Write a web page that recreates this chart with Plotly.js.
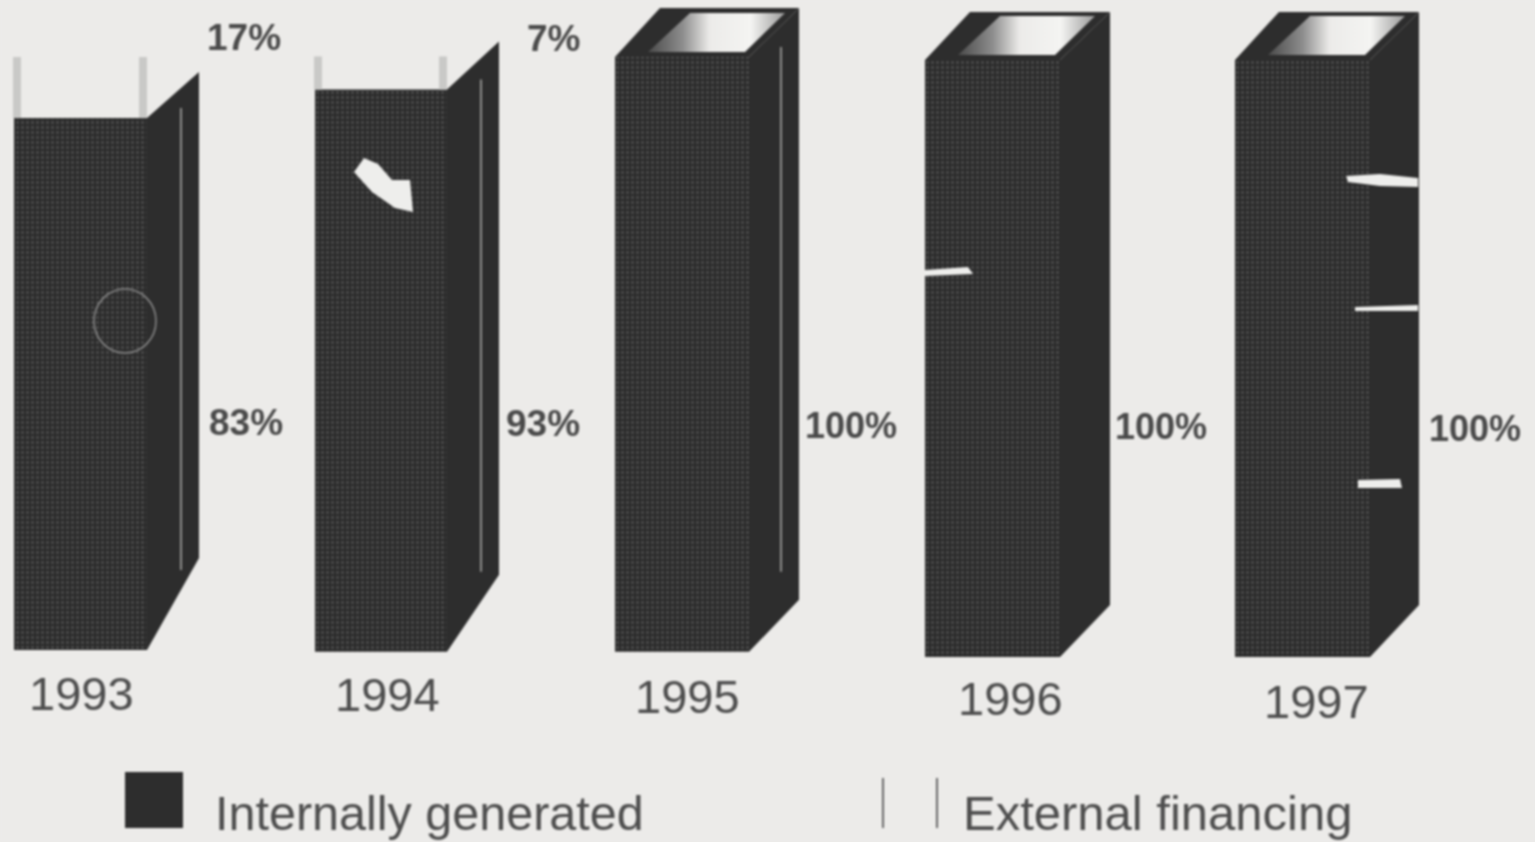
<!DOCTYPE html>
<html><head><meta charset="utf-8">
<script src="https://cdn.plot.ly/plotly-3.0.1.min.js"></script>
<style>html,body{margin:0;padding:0;background:#ecebe9;overflow:hidden}#p{width:1535px;height:842px;filter:blur(0.9px)}</style>
</head><body><div id="p"></div>
<script>
// Data
const years = ['1993','1994','1995','1996','1997'];
const internalLabels = ['83%','93%','100%','100%','100%'];
const externalLabels = ['17%','7%','','',''];
// Segment heights as drawn in the scan
const internalDrawn = [89.7,94.8,100.3,100.7,100.7];
const externalDrawn = [10.3,5.6,0,0,0];
const baseDrawn = [0,-0.3,-0.3,-1.2,-1.2];

// Layout geometry (pixels of the 1535x842 page)
const barLeft = [14,315,615,925,1235];
const barWidth = [133,132,134,135,135];
const depthX = [52,52,50,50,49];
const depthTop = [46,48,49,48,48];
const depthBottom = [92,77,52,52,52];
const yearX = [81,387,687,1010,1316];
const yearY = [693,694,696,698,701];
const intLabelX = [246,543,851,1161,1475];
const intLabelY = [422,423,425,426,428];
const extLabelX = [244,553];
const extLabelY = [37,38];
const edgeX = [181,481,781];

const PX = 5.93, ZERO = 650;
const dy = px => px / PX;               // pixels -> axis units
const yAt = p => (ZERO - p) / PX;       // page y -> axis value
const DARK = '#2d2d2d';
const BG = '#ecebe9';

const traces = [];
// External (hollow) and internal bars
traces.push({type:'bar', name:'External financing', x:barLeft.map((l,i)=>l+barWidth[i]/2), width:barWidth,
  base:internalDrawn.map((v,i)=>v+baseDrawn[i]), y:externalDrawn,
  marker:{color:'rgba(0,0,0,0)',line:{width:0}}, hoverinfo:'skip', showlegend:false});
traces.push({type:'bar', name:'Internally generated', x:barLeft.map((l,i)=>l+barWidth[i]/2), width:barWidth,
  base:baseDrawn, y:internalDrawn,
  marker:{color:DARK,line:{width:0},pattern:{shape:'.',size:5,solidity:0.1,fgcolor:'#767676',bgcolor:DARK,fillmode:'replace'}},
  hoverinfo:'skip', showlegend:false});

years.forEach((yr,i)=>{
  const L = barLeft[i], R = L + barWidth[i], dx = depthX[i];
  const b = baseDrawn[i], top = b + internalDrawn[i], tot = top + externalDrawn[i];
  // side face
  traces.push({type:'scatter',mode:'lines',fill:'toself',fillcolor:DARK,line:{width:0,color:DARK},
    x:[R,R+dx,R+dx,R,R], y:[top,top+dy(depthTop[i]),b+dy(depthBottom[i]),b,top],hoverinfo:'skip',showlegend:false});
  if (externalDrawn[i] > 0) {
    // hollow external segment: two soft vertical edges
    [L+3,R-4].forEach(x=>traces.push({type:'scatter',mode:'lines',x:[x,x],y:[top,tot],
      line:{color:'#c9c9c7',width:8},hoverinfo:'skip',showlegend:false}));
  } else {
    // top face: dark frame and a lit centre
    traces.push({type:'scatter',mode:'lines',fill:'toself',fillcolor:DARK,line:{width:0,color:DARK},
      x:[L,L+dx-5,R+dx,R,L], y:[top,top+dy(depthTop[i]),top+dy(depthTop[i]),top,top],hoverinfo:'skip',showlegend:false});
    traces.push({type:'scatter',mode:'lines',fill:'toself',line:{width:0,color:'#888'},
      fillgradient:{type:'horizontal',colorscale:[[0,'#4a4a4a'],[0.25,'#8c8c8c'],[0.45,'#ecebe9'],[0.75,'#f4f4f2'],[1,'#9a9a9a']]},
      x:[L+33,L+75,L+170,L+130,L+33], y:[top+dy(5),top+dy(44),top+dy(44),top+dy(5),top+dy(5)],hoverinfo:'skip',showlegend:false});
  }
});
// light crease on the side faces of the first three bars
edgeX.forEach((x,i)=>traces.push({type:'scatter',mode:'lines',x:[x,x],
  y:[baseDrawn[i]+internalDrawn[i]+dy(10),baseDrawn[i]+dy(80)],
  line:{color:'#8f8f8d',width:2},hoverinfo:'skip',showlegend:false}));

const ann = (x,y,text,size,bold,color)=>({x,y:yAt(y),xref:'x',yref:'y',text:bold?'<b>'+text+'</b>':text,showarrow:false,
  xanchor:'center',yanchor:'middle',font:{family:'"Liberation Sans",Arial,sans-serif',size,color}});
const annotations = [];
years.forEach((y,i)=>{
  annotations.push(ann(yearX[i],yearY[i],y,47,false,'#4e4e4e'));
  annotations.push(ann(intLabelX[i],intLabelY[i],internalLabels[i],i<2?37:36,true,'#4a4a4a'));
  if (externalLabels[i]) annotations.push(ann(extLabelX[i],extLabelY[i],externalLabels[i],37,true,'#4a4a4a'));
});
annotations.push(ann(429.5,813,'Internally generated',48.5,false,'#4e4e4e'));
annotations.push(ann(1158,813,'External financing',49,false,'#4e4e4e'));

// Legend swatches and the most visible scan blemishes
const shapes = [
 {type:'rect',xref:'paper',yref:'paper',x0:125/1535,x1:183/1535,y0:1-828/842,y1:1-772/842,fillcolor:DARK,line:{width:0}},
 {type:'line',xref:'paper',yref:'paper',x0:883/1535,x1:883/1535,y0:1-828/842,y1:1-778/842,line:{color:'#666',width:2}},
 {type:'line',xref:'paper',yref:'paper',x0:937/1535,x1:937/1535,y0:1-828/842,y1:1-778/842,line:{color:'#666',width:2}}
];
const blem = (d,fill)=>({type:'path',xref:'paper',yref:'paper',path:d,fillcolor:fill,line:{width:0}});
const P = s => s.replace(/(-?[\d.]+),(-?[\d.]+)/g,(m,a,b)=>(a/1535)+','+(1-b/842));
[
 'M354,172 L364,158 L378,164 L392,180 L410,180 L413,212 L395,208 L372,192 Z',
 'M925,270 L968,267 L973,274 L925,276 Z',
 'M1346,176 L1380,174 L1418,178 L1418,187 L1380,186 L1348,182 Z',
 'M1358,480 L1400,479 L1402,488 L1358,488 Z',
 'M1355,307 L1418,305 L1418,311 L1355,311 Z'
].forEach(d=>shapes.push(blem(P(d),'#eeeeec')));
shapes.push({type:'circle',xref:'paper',yref:'paper',x0:94/1535,x1:156/1535,y0:1-353/842,y1:1-289/842,line:{color:'#8a8a8a',width:1.5},fillcolor:'rgba(0,0,0,0)'});

Plotly.newPlot('p',traces,{
  width:1535,height:842,margin:{l:0,r:0,t:0,b:0},
  paper_bgcolor:BG,plot_bgcolor:BG,barmode:'overlay',showlegend:false,
  xaxis:{range:[0,1535],visible:false,fixedrange:true},
  yaxis:{range:[yAt(842),yAt(0)],visible:false,fixedrange:true},
  annotations,shapes
},{displayModeBar:false,staticPlot:true});
</script></body></html>
